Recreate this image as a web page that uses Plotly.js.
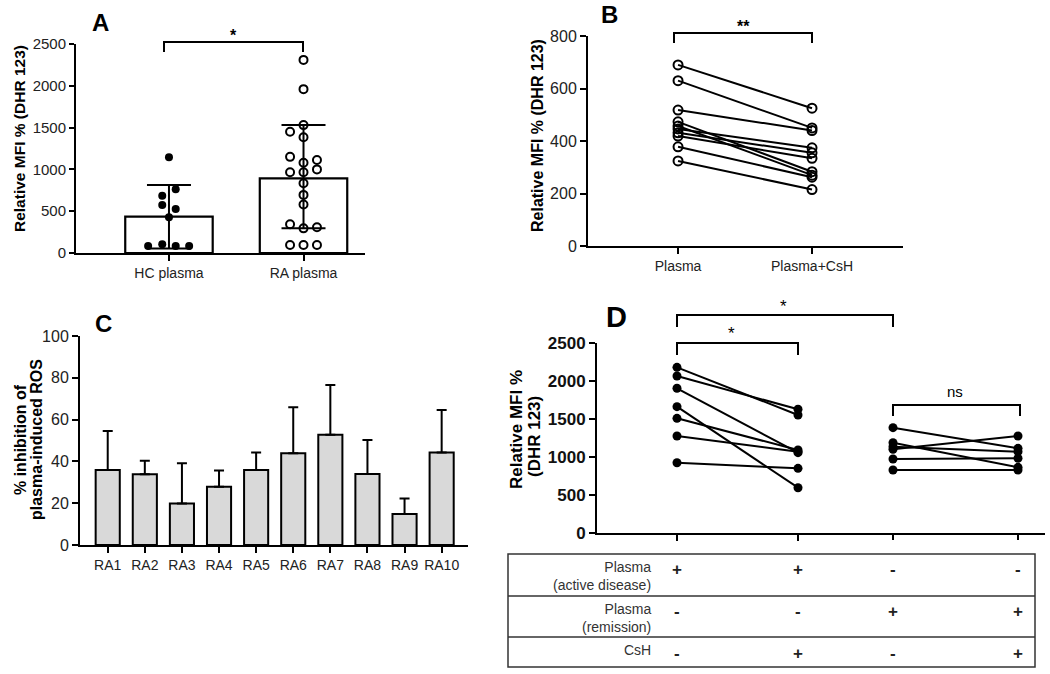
<!DOCTYPE html>
<html><head><meta charset="utf-8">
<script src="https://cdn.plot.ly/plotly-3.0.1.min.js"></script>
<style>html,body{margin:0;padding:0;background:#fff}#chart{width:1050px;height:674px}</style>
</head><body><div id="chart"></div>
<script>
// ---------- Panel A data ----------
const aCategories = ['HC plasma', 'RA plasma'];
const aMeans = [434, 893];
const aErrPlus = [379, 637];
const aErrMinus = [379, 598];
const aHcValues = [1144, 762, 685, 574, 526, 427, 84, 104, 84, 84];
const aHcJitter = [0, 0.05, -0.05, -0.05, 0.05, 0, -0.155, -0.05, 0.05, 0.15];
const aRaValues = [2310, 1960, 1530, 1450, 1385, 1150, 1112, 1080, 1000, 965, 965, 835, 695, 580, 343, 307, 295, 96, 96, 96];
const aRaJitter = [0, 0, 0, -0.1, 0, -0.1, 0.1, 0, 0.1, -0.1, 0, 0, 0, 0, -0.1, 0.1, 0, -0.1, 0, 0.1];

// ---------- Panel B data ----------
const bCategories = ['Plasma', 'Plasma+CsH'];
const bPlasma    = [690, 630, 518, 473, 457, 446, 431, 419, 378, 324];
const bPlasmaCsH = [525, 450, 440, 283, 270, 374, 355, 334, 262, 215];

// ---------- Panel C data ----------
const cCategories = ['RA1', 'RA2', 'RA3', 'RA4', 'RA5', 'RA6', 'RA7', 'RA8', 'RA9', 'RA10'];
const cMeans  = [35.9, 33.8, 19.9, 27.9, 35.9, 43.9, 52.8, 34.0, 14.8, 44.2];
const cErrors = [18.6, 6.5, 19.2, 7.7, 8.4, 22.0, 23.8, 16.2, 7.5, 20.4];

// ---------- Panel D data ----------
const dActiveCats = ['Active', 'Active+CsH'];
const dRemissionCats = ['Remission', 'Remission+CsH'];
const dActiveBefore = [2180, 2066, 1904, 1662, 1509, 1276, 925];
const dActiveAfter  = [1553, 1628, 1057, 596, 1092, 1070, 851];
const dRemissionBefore = [1386, 1188, 1136, 1101, 974, 829];
const dRemissionAfter  = [1114, 864, 1070, 1276, 983, 829];
const dRowLabels = ['Plasma<br>(active disease)', 'Plasma<br>(remission)', 'CsH'];
const dActiveSigns    = ['+', '+', '-', '-'];
const dRemissionSigns = ['-', '-', '+', '+'];
const dCshSigns       = ['-', '+', '-', '+'];

// ---------- helpers (layout only) ----------
const W = 1050, H = 674;
const fx = p => p / W;
const fy = p => 1 - p / H;
const FONT = 'Liberation Sans, Arial, Helvetica, sans-serif';
const BLACK = '#000';

const traces = [];

// Panel A
traces.push({
  type: 'bar', x: aCategories.map((c, i) => i), y: aMeans, width: 0.65,
  marker: {color: 'rgba(0,0,0,0)', line: {color: BLACK, width: 2.2}},
  error_y: {type: 'data', symmetric: false, array: aErrPlus, arrayminus: aErrMinus,
            color: BLACK, thickness: 2, width: 22},
  xaxis: 'x', yaxis: 'y', showlegend: false, hoverinfo: 'skip'
});
traces.push({
  type: 'scatter', mode: 'markers',
  x: aHcValues.map((v, i) => 0 + aHcJitter[i]), y: aHcValues,
  marker: {symbol: 'circle', size: 8, color: BLACK},
  xaxis: 'x', yaxis: 'y', showlegend: false, cliponaxis: false
});
traces.push({
  type: 'scatter', mode: 'markers',
  x: aRaValues.map((v, i) => 1 + aRaJitter[i]), y: aRaValues,
  marker: {symbol: 'circle-open', size: 8, color: BLACK, line: {width: 2}},
  xaxis: 'x', yaxis: 'y', showlegend: false, cliponaxis: false
});

// Panel B
bPlasma.forEach((v, i) => {
  traces.push({
    type: 'scatter', mode: 'lines+markers', x: bCategories, y: [v, bPlasmaCsH[i]],
    line: {color: BLACK, width: 2},
    marker: {symbol: 'circle-open', size: 9, color: BLACK, line: {width: 2}},
    xaxis: 'x2', yaxis: 'y2', showlegend: false, cliponaxis: false
  });
});

// Panel C
traces.push({
  type: 'bar', x: cCategories, y: cMeans, width: 0.65,
  marker: {color: '#d9d9d9', line: {color: BLACK, width: 2}},
  error_y: {type: 'data', symmetric: false, array: cErrors, arrayminus: cErrors.map(() => 0),
            color: BLACK, thickness: 2, width: 5},
  xaxis: 'x3', yaxis: 'y3', showlegend: false
});

// Panel D
dActiveBefore.forEach((v, i) => {
  traces.push({
    type: 'scatter', mode: 'lines+markers', x: dActiveCats, y: [v, dActiveAfter[i]],
    line: {color: BLACK, width: 2}, marker: {symbol: 'circle', size: 9, color: BLACK},
    xaxis: 'x4', yaxis: 'y4', showlegend: false, cliponaxis: false
  });
});
dRemissionBefore.forEach((v, i) => {
  traces.push({
    type: 'scatter', mode: 'lines+markers', x: dRemissionCats, y: [v, dRemissionAfter[i]],
    line: {color: BLACK, width: 2}, marker: {symbol: 'circle', size: 9, color: BLACK},
    xaxis: 'x5', yaxis: 'y4', showlegend: false, cliponaxis: false
  });
});

// ---------- axes ----------
const baseAxis = {
  showline: true, linecolor: BLACK, linewidth: 2, ticks: 'outside', ticklen: 6,
  tickwidth: 2, tickcolor: BLACK, showgrid: false, zeroline: false, fixedrange: true,
  tickfont: {family: FONT, size: 16, color: '#222'}
};
const layout = {
  width: W, height: 674, margin: {l: 0, r: 0, t: 0, b: 0},
  paper_bgcolor: '#fff', plot_bgcolor: 'rgba(0,0,0,0)', showlegend: false,
  font: {family: FONT, color: BLACK},
  xaxis: Object.assign({}, baseAxis, {domain: [fx(76), fx(365)], anchor: 'y', range: [-0.691, 1.457],
    tickmode: 'array', tickvals: aCategories.map((c, i) => i), ticktext: aCategories,
    tickfont: {family: FONT, size: 14, color: '#222'}}),
  yaxis: Object.assign({}, baseAxis, {domain: [fy(253), fy(44)], anchor: 'x', range: [0, 2500],
    tickvals: [0, 500, 1000, 1500, 2000, 2500], ticklen: 5,
    tickfont: {family: FONT, size: 15, color: '#222'}}),
  xaxis2: Object.assign({}, baseAxis, {domain: [fx(588), fx(903)], anchor: 'y2', type: 'category',
    categoryorder: 'array', categoryarray: bCategories, range: [-0.672, 1.679],
    tickfont: {family: FONT, size: 14, color: '#222'}}),
  yaxis2: Object.assign({}, baseAxis, {domain: [fy(246), fy(36)], anchor: 'x2', range: [0, 800],
    tickvals: [0, 200, 400, 600, 800]}),
  xaxis3: Object.assign({}, baseAxis, {domain: [fx(80), fx(468)], anchor: 'y3', type: 'category',
    categoryorder: 'array', categoryarray: cCategories, range: [-0.747, 9.71],
    tickfont: {family: FONT, size: 14, color: '#222'}}),
  yaxis3: Object.assign({}, baseAxis, {domain: [fy(545), fy(336)], anchor: 'x3', range: [0, 100],
    tickvals: [0, 20, 40, 60, 80, 100]}),
  xaxis4: Object.assign({}, baseAxis, {domain: [fx(597), fx(1045)], anchor: 'y4', type: 'category',
    categoryorder: 'array', categoryarray: dActiveCats, range: [-0.661, 3.041], showticklabels: false}),
  xaxis5: Object.assign({}, baseAxis, {overlaying: 'x4', anchor: 'y4', type: 'category',
    categoryorder: 'array', categoryarray: dRemissionCats, range: [-2.368, 1.216],
    showticklabels: false, showline: false}),
  yaxis4: Object.assign({}, baseAxis, {domain: [fy(533), fy(343)], anchor: 'x4', range: [0, 2500],
    tickvals: [0, 500, 1000, 1500, 2000, 2500],
    tickfont: {family: FONT, size: 17, color: '#111', weight: 700}}),
  shapes: [], annotations: []
};

const ann = (x, y, text, size, opts) => Object.assign({
  xref: 'paper', yref: 'paper', x: fx(x), y: fy(y), text: text, showarrow: false,
  font: {family: FONT, size: size, color: BLACK}, xanchor: 'center', yanchor: 'middle'
}, opts || {});
const line = (x0, y0, x1, y1, w, c) => ({type: 'line', xref: 'paper', yref: 'paper',
  x0: fx(x0), y0: fy(y0), x1: fx(x1), y1: fy(y1), line: {color: c || BLACK, width: w || 2}});
const bracket = (xl, xr, ytop, ybot) => ({type: 'path', xref: 'paper', yref: 'paper',
  path: `M ${fx(xl)} ${fy(ybot)} L ${fx(xl)} ${fy(ytop)} L ${fx(xr)} ${fy(ytop)} L ${fx(xr)} ${fy(ybot)}`,
  line: {color: BLACK, width: 2}});

// panel letters
layout.annotations.push(ann(100, 22, '<b>A</b>', 24));
layout.annotations.push(ann(609, 14, '<b>B</b>', 24));
layout.annotations.push(ann(103, 324, '<b>C</b>', 24));
layout.annotations.push(ann(616, 317, '<b>D</b>', 29));

// y titles
layout.annotations.push(ann(20, 139, '<b>Relative MFI % (DHR 123)</b>', 15.5, {textangle: -90}));
layout.annotations.push(ann(538, 136, '<b>Relative MFI % (DHR 123)</b>', 16, {textangle: -90}));
layout.annotations.push(ann(20, 440, '<b>% inhibition of</b>', 16, {textangle: -90}));
layout.annotations.push(ann(36, 440, '<b>plasma-induced ROS</b>', 16, {textangle: -90}));
layout.annotations.push(ann(516, 430, '<b>Relative MFI %</b>', 17, {textangle: -90}));
layout.annotations.push(ann(534, 437, '<b>(DHR 123)</b>', 17, {textangle: -90}));

// significance brackets
layout.shapes.push(bracket(164, 303, 42, 52));
layout.annotations.push(ann(233, 36, '<b>*</b>', 16));
layout.shapes.push(bracket(674, 812, 33, 43));
layout.annotations.push(ann(743, 26, '<b>**</b>', 16));
layout.shapes.push(bracket(677, 893, 315, 327));
layout.annotations.push(ann(783, 306, '*', 17));
layout.shapes.push(bracket(677, 798, 343, 355));
layout.annotations.push(ann(731, 333, '*', 17));
layout.shapes.push(bracket(893, 1020, 405, 416));
layout.annotations.push(ann(955, 391, 'ns', 15));

// table under panel D
layout.shapes.push({type: 'rect', xref: 'paper', yref: 'paper', x0: fx(508), x1: fx(1035),
  y0: fy(667), y1: fy(554), line: {color: '#333', width: 1.5}});
layout.shapes.push(line(508, 596, 1035, 596, 1.5, '#333'));
layout.shapes.push(line(508, 637, 1035, 637, 1.5, '#333'));
const rowCenters = [576, 618, 650];
const signRowY = [569, 611, 653];
dRowLabels.forEach((t, r) => {
  layout.annotations.push(ann(653, rowCenters[r], t, 14,
    {xanchor: 'right', align: 'right', font: {family: FONT, size: 14, color: '#333'}}));
});
[dActiveSigns, dRemissionSigns, dCshSigns].forEach((signs, r) => {
  signs.forEach((s, c) => {
    const axisRef = c < 2 ? 'x4' : 'x5';
    const cat = c < 2 ? dActiveCats[c] : dRemissionCats[c - 2];
    layout.annotations.push({xref: axisRef, yref: 'paper', x: cat, y: fy(signRowY[r]),
      text: '<b>' + s + '</b>', showarrow: false, xanchor: 'center', yanchor: 'middle',
      font: {family: FONT, size: 17, color: '#222'}});
  });
});

Plotly.newPlot('chart', traces, layout, {displayModeBar: false, staticPlot: true});
</script></body></html>
